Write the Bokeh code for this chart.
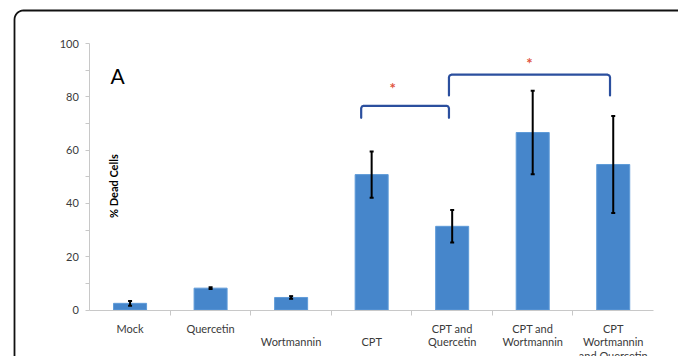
import math
from bokeh.plotting import figure
from bokeh.models import (ColumnDataSource, Range1d, FixedTicker, Whisker, TeeHead, Label)
from bokeh.core.properties import value
from bokeh.embed import file_html
from bokeh.resources import INLINE

# ---------------- data ----------------
categories = ["Mock", "Quercetin", "Wortmannin", "CPT", "CPT and Quercetin",
              "CPT and Wortmannin", "CPT Wortmannin and Quercetin"]
tick_labels = ["Mock", "Quercetin", "\nWortmannin", "\nCPT", "CPT and\nQuercetin",
               "CPT and\nWortmannin", "CPT\nWortmannin\nand Quercetin"]
dead_cells = [2.5, 8.2, 4.7, 50.8, 31.4, 66.6, 54.6]
errors = [0.9, 0.3, 0.5, 8.7, 6.1, 15.7, 18.2]
y_ticks = [0, 20, 40, 60, 80, 100]
y_minor_ticks = [10, 30, 50, 70, 90]

# significance brackets
bracket_from = ["CPT", "CPT and Quercetin"]
bracket_to = ["CPT and Quercetin", "CPT Wortmannin and Quercetin"]
bracket_top = [76.6, 88.3]
bracket_foot = [72.1, 80.5]
star_y = [83.2, 92.5]
star_text = ["*", "*"]

# ---------------- layout (pixels) ----------------
W, H = 678, 356
AX_LEFT_PX, AX_RIGHT_PX = 89.3, 653.0     # x axis extent
TOP_PX, ZERO_PX = 43.0, 309.5             # y = 100 and y = 0
n = len(categories)
PX_X = (AX_RIGHT_PX - AX_LEFT_PX) / n
PX_Y = (ZERO_PX - TOP_PX) / 100.0
x_min = -AX_LEFT_PX / PX_X
x_max = n + (W - AX_RIGHT_PX) / PX_X
y_max = 100 + TOP_PX / PX_Y
y_min = -(H - ZERO_PX) / PX_Y


def dx(px):
    return x_min + px / PX_X


def dy(py):
    return y_max - py / PX_Y


centers = [i + 0.5 for i in range(n)]
pos = dict(zip(categories, centers))

p = figure(width=W, height=H, x_range=Range1d(x_min, x_max),
           y_range=Range1d(y_min, y_max), output_backend="svg", toolbar_location=None,
           min_border=0)
p.outline_line_color = None
p.xgrid.visible = False
p.ygrid.visible = False
p.background_fill_color = "white"
p.border_fill_color = "white"

FONT = "Lato"
# y axis
ya = p.yaxis[0]
ya.fixed_location = 0
ya.ticker = FixedTicker(ticks=y_ticks, minor_ticks=y_minor_ticks)
ya.bounds = (0, 100)
ya.axis_line_color = "#c8c8c8"
ya.major_tick_line_color = "#c8c8c8"
ya.minor_tick_line_color = "#c8c8c8"
ya.major_tick_in = 0
ya.major_tick_out = 4
ya.minor_tick_in = 0
ya.minor_tick_out = 4
ya.major_label_standoff = 7
ya.major_label_text_font = FONT
ya.major_label_text_font_size = "11px"
ya.major_label_text_color = "#3a3a3a"

# x axis
xa = p.xaxis[0]
xa.fixed_location = 0
xa.bounds = (0, n)
xa.ticker = FixedTicker(ticks=centers, minor_ticks=list(range(1, n)))
xa.major_label_overrides = {c: t for c, t in zip(centers, tick_labels)}
xa.axis_line_color = "#c8c8c8"
xa.major_tick_line_color = None
xa.major_tick_in = 0
xa.major_tick_out = 0
xa.minor_tick_line_color = "#c8c8c8"
xa.minor_tick_in = 0
xa.minor_tick_out = 5
xa.major_label_standoff = 7
xa.major_label_text_font = FONT
xa.major_label_text_font_size = "11px"
xa.major_label_text_color = "#3a3a3a"
xa.major_label_text_line_height = 1.02

# bars
src = ColumnDataSource(dict(
    x=centers, top=dead_cells,
    lower=[v - e for v, e in zip(dead_cells, errors)],
    upper=[v + e for v, e in zip(dead_cells, errors)],
))
p.vbar(x="x", top="top", bottom=0, width=0.41, source=src,
       fill_color="#4686cb", line_color="#5f9bd8", line_width=1)

wh = Whisker(source=src, base="x", lower="lower", upper="upper", dimension="height",
             line_color="black", line_width=2, level="overlay",
             upper_head=TeeHead(size=4, line_color="black", line_width=2),
             lower_head=TeeHead(size=4, line_color="black", line_width=2))
p.add_layout(wh)

# brackets
off_from = [-0.13, -0.04]
off_to = [-0.04, -0.04]
star_frac = [0.36, 0.5]
rx, ry = 0.03, 0.9
bxs, bys, sx = [], [], []
for f, t, top, foot, of, ot, fr in zip(bracket_from, bracket_to, bracket_top,
                                       bracket_foot, off_from, off_to, star_frac):
    x0 = pos[f] + of
    x1 = pos[t] + ot
    bxs.append([x0, x0, x0 + rx * 0.3, x0 + rx, x1 - rx, x1 - rx * 0.3, x1, x1])
    bys.append([foot, top - ry, top - ry * 0.3, top, top, top - ry * 0.3, top - ry, foot])
    sx.append(x0 + (x1 - x0) * fr)
p.multi_line(xs=bxs, ys=bys, line_color="#2b4f9e", line_width=2.2, line_join="round",
             line_cap="round")
p.text(x=sx, y=star_y, text=star_text, text_color="#e0533d",
       text_font=value(FONT), text_font_size="15px", text_font_style="bold",
       text_align="center", text_baseline="middle")

# panel letter and y label
p.add_layout(Label(x=0.257, y=88.0, text="A", text_font=FONT, text_font_size="21px",
                   text_color="black", text_baseline="alphabetic"))
p.add_layout(Label(x=0.29, y=46.5, text="% Dead Cells", angle=math.pi / 2,
                   text_font=FONT, text_font_size="11px", text_font_style="bold",
                   text_color="black", text_align="center", text_baseline="middle"))

# rounded border of the figure panel (pixel targets converted to data space)
bx_px, by_px, rad = 14.0, 10.0, 9.0
arc = [(bx_px + rad - rad * math.cos(a), by_px + rad - rad * math.sin(a))
       for a in [k * math.pi / 2 / 8 for k in range(9)]]
border_px = [(bx_px, H + 20)] + arc + [(W + 20, by_px)]
p.line(x=[dx(a) for a, b in border_px], y=[dy(b) for a, b in border_px],
       line_color="#111111", line_width=1.8, line_join="round")

open("out.html", "w").write(file_html(p, INLINE))
